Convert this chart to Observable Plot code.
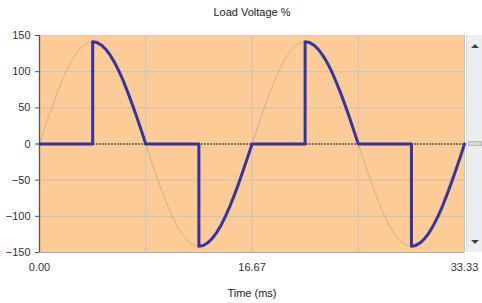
<!DOCTYPE html>
<html>
<head>
<meta charset="utf-8">
<script src="https://cdn.jsdelivr.net/npm/d3@7"></script>
<script src="https://cdn.jsdelivr.net/npm/@observablehq/plot@0.6"></script>
<style>
  body { margin: 0; background: #fff; }
  #wrap { position: relative; width: 482px; height: 303px; }
  #sb { position: absolute; left: 466px; top: 35px; width: 16px; height: 217px; background: #ededed; border-left: 1px solid #d8d8d8; box-sizing: border-box; }
  #sb .up, #sb .dn { position: absolute; left: 4px; width: 0; height: 0; border-left: 4px solid transparent; border-right: 4px solid transparent; }
  #sb .up { top: 9px; border-bottom: 4px solid #444; }
  #sb .dn { bottom: 8px; border-top: 4px solid #444; }
  #sb .th { position: absolute; left: 1px; right: 0; top: 106px; height: 5px; background: #d6d6d6; border: 1px solid #b8b8b8; box-sizing: border-box; }
</style>
</head>
<body>
<div id="wrap"></div>
<script>
// Time axis (ms), 15-degree steps over two 60 Hz cycles
const sineTime = [0, 0.69, 1.39, 2.08, 2.78, 3.47, 4.17, 4.86, 5.56, 6.25, 6.94, 7.64, 8.33,
  9.03, 9.72, 10.42, 11.11, 11.81, 12.5, 13.19, 13.89, 14.58, 15.28, 15.97, 16.67,
  17.36, 18.06, 18.75, 19.44, 20.14, 20.83, 21.53, 22.22, 22.92, 23.61, 24.31, 25.0,
  25.69, 26.39, 27.08, 27.78, 28.47, 29.17, 29.86, 30.56, 31.25, 31.94, 32.64, 33.33];
// Supply voltage % (thin line)
const sineVolt = [0, 36.6, 70.7, 100, 122.5, 136.6, 141.4, 136.6, 122.5, 100, 70.7, 36.6, 0,
  -36.6, -70.7, -100, -122.5, -136.6, -141.4, -136.6, -122.5, -100, -70.7, -36.6, 0,
  36.6, 70.7, 100, 122.5, 136.6, 141.4, 136.6, 122.5, 100, 70.7, 36.6, 0,
  -36.6, -70.7, -100, -122.5, -136.6, -141.4, -136.6, -122.5, -100, -70.7, -36.6, 0];
// Load voltage % (thick line, phase-controlled at 90 degrees)
const loadTime = [0, 4.17,
  4.17, 4.51, 4.86, 5.21, 5.56, 5.90, 6.25, 6.60, 6.94, 7.29, 7.64, 7.99, 8.33,
  12.5,
  12.5, 12.85, 13.19, 13.54, 13.89, 14.24, 14.58, 14.93, 15.28, 15.63, 15.97, 16.32, 16.67,
  20.83,
  20.83, 21.18, 21.53, 21.88, 22.22, 22.57, 22.92, 23.26, 23.61, 23.96, 24.31, 24.65, 25.0,
  29.17,
  29.17, 29.51, 29.86, 30.21, 30.56, 30.90, 31.25, 31.60, 31.94, 32.29, 32.64, 32.99, 33.33];
const loadVolt = [0, 0,
  141.4, 140.2, 136.6, 130.6, 122.5, 112.2, 100, 86.1, 70.7, 54.1, 36.6, 18.5, 0,
  0,
  -141.4, -140.2, -136.6, -130.6, -122.5, -112.2, -100, -86.1, -70.7, -54.1, -36.6, -18.5, 0,
  0,
  141.4, 140.2, 136.6, 130.6, 122.5, 112.2, 100, 86.1, 70.7, 54.1, 36.6, 18.5, 0,
  0,
  -141.4, -140.2, -136.6, -130.6, -122.5, -112.2, -100, -86.1, -70.7, -54.1, -36.6, -18.5, 0];
const xTicks = [0, 16.67, 33.33];
const xGrid = [0, 8.33, 16.67, 25, 33.33];
const yTicks = [-150, -100, -50, 0, 50, 100, 150];
const yGrid = [-100, -50, 50, 100];
const title = "Load Voltage %";
const xLabel = "Time (ms)";

const sine = sineTime.map((t, i) => ({t, v: sineVolt[i]}));
const load = loadTime.map((t, i) => ({t, v: loadVolt[i]}));

const chart = Plot.plot({
  width: 482,
  height: 303,
  marginLeft: 39,
  marginRight: 18,
  marginTop: 35,
  marginBottom: 51,
  style: {fontFamily: "'Liberation Sans', Arial, sans-serif", fontSize: "11px", color: "#333", background: "#fff"},
  x: {domain: [0, 33.33], label: null},
  y: {domain: [-150, 150], label: null},
  marks: [
    Plot.frame({fill: "#fdcb98", stroke: null}),
    Plot.ruleX(xGrid, {stroke: "#c9c0b6", strokeWidth: 1}),
    Plot.ruleY(yGrid, {stroke: "#c9c0b6", strokeWidth: 1}),
    Plot.ruleY([150], {stroke: "#d2cdc8"}),
    Plot.ruleY([-150], {stroke: "#a8a8a8"}),
    Plot.ruleX([33.33], {dx: 2, stroke: "#b8b8b8"}),
    Plot.ruleY([0], {stroke: "#111", strokeWidth: 1, strokeDasharray: "2,1"}),
    Plot.line(sine, {x: "t", y: "v", stroke: "#bf9f80", strokeWidth: 0.7, curve: "catmull-rom"}),
    Plot.line(load, {x: "t", y: "v", stroke: "#35359b", strokeWidth: 3, strokeLinejoin: "round"}),
    Plot.axisY(yTicks, {tickSize: 4, tickPadding: 5, stroke: "#555", fill: "#333"}),
    Plot.ruleX([0], {stroke: "#555", strokeWidth: 1.3}),
    Plot.axisX(xTicks, {tickSize: 0, tickPadding: 11, tickFormat: d => d.toFixed(2), fill: "#333"}),
    Plot.text([title], {frameAnchor: "top", dy: -23, lineAnchor: "middle", fill: "#222"}),
    Plot.text([xLabel], {frameAnchor: "bottom", dy: 41, lineAnchor: "middle", fill: "#222"})
  ]
});

const wrap = document.getElementById("wrap");
wrap.appendChild(chart);
const sb = document.createElement("div");
sb.id = "sb";
sb.innerHTML = '<div class="up"></div><div class="th"></div><div class="dn"></div>';
wrap.appendChild(sb);
</script>
</body>
</html>
